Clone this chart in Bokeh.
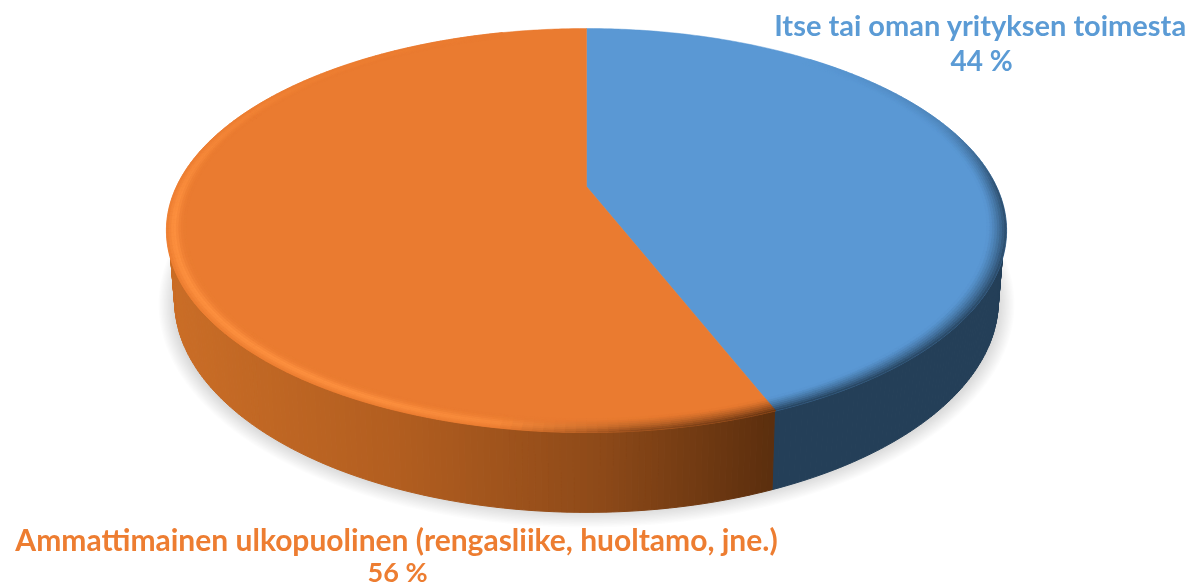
import numpy as np
from bokeh.plotting import figure
from bokeh.core.properties import value
from bokeh.embed import file_html
from bokeh.resources import INLINE

# ---- chart data ----
labels = ["Itse tai oman yrityksen toimesta",
          "Ammattimainen ulkopuolinen (rengasliike, huoltamo, jne.)"]
shares = [44, 56]
face_colors = ["#5a98d4", "#ea7b30"]
text_colors = ["#5b9bd5", "#ed7d31"]

W, H = 1199, 588
C = -0.2178          # perspective factor
CX = 586

def top(r, th):
    s, t = r * np.sin(th), -r * np.cos(th)
    d = 1 + C * t
    return CX + 410 * s / d, (186 + 151.9 * t) / d

def bottom(th):
    s, t = np.sin(th), -np.cos(th)
    d = 1 + C * t
    return CX + 402 * s / d, (253.8 + 146.6 * t) / d

def rgb(c):
    return np.array([int(c[i:i + 2], 16) for i in (1, 3, 5)], float)

def mix(a, b, f):
    v = rgb(a) * (1 - f) + rgb(b) * f
    return "#%02x%02x%02x" % tuple(int(round(x)) for x in v)

p = figure(width=W, height=H, x_range=(0, W), y_range=(H, 0),
           output_backend="svg", toolbar_location=None,
           min_border=0, outline_line_color=None, background_fill_color="white")
p.axis.visible = False
p.grid.visible = False
p.styles = {"position": "fixed", "left": "0px", "top": "0px"}

# soft ground shadow
phi = np.linspace(0, 2 * np.pi, 180)
for g in np.linspace(20, 0, 16):
    p.patch(CX + (408 + g) * np.sin(phi), 304 - (203 + g) * np.cos(phi),
            fill_color="#000000", fill_alpha=0.012, line_color=None)

# slice angle limits
frac = np.cumsum([0] + shares) / sum(shares) * 2 * np.pi
side_x = [165, 400, 600, 772]
side_r = [(0xcb, 0xb2, 0x8e, 0x5c), (0x6e, 0x5e, 0x4a, 0x2f), (0x27, 0x20, 0x19, 0x0e)]

# side wall, strip by strip (front half only)
xs, ys, cols = [], [], []
for i in range(2):
    n = int(shares[i] * 5)
    th = np.linspace(frac[i], frac[i + 1], n + 1)
    for a, b in zip(th[:-1], th[1:]):
        if -np.cos((a + b) / 2) < -0.15:
            continue
        x0, y0 = top(0.995, a); x1, y1 = top(0.995, b)
        x2, y2 = bottom(b); x3, y3 = bottom(a)
        xs.append([x0, x1, x2, x3]); ys.append([y0, y1, y2, y3])
        if i == 0:
            cols.append("#243f58")
        else:
            xm = (x0 + x1) / 2
            c = [np.interp(xm, side_x, ch) for ch in side_r]
            cols.append("#%02x%02x%02x" % tuple(int(v) for v in c))
p.patches(xs, ys, fill_color=cols, line_color=cols, line_width=1)

# top faces
for i in range(2):
    th = np.linspace(frac[i], frac[i + 1], int(shares[i] * 6))
    x, y = top(1, th)
    x = np.concatenate([[CX], x]); y = np.concatenate([[186], y])
    p.patch(x, y, fill_color=face_colors[i], line_color=face_colors[i], line_width=0.5)

# bevelled rim
def ramp(d, pts, vals):
    return float(np.interp(d, pts, vals))

RW = 0.045
us = np.linspace(0, 1, 9)
xs, ys, cols = [], [], []
for i in range(2):
    n = int(shares[i] * 3)
    th = np.linspace(frac[i], frac[i + 1], n + 1)
    for a, b in zip(th[:-1], th[1:]):
        deg = np.degrees((a + b) / 2)
        if i == 0 and deg < 40:
            continue
        if i == 1 and deg > 345:
            continue
        for u0, u1 in zip(us[:-1], us[1:]):
            um = (u0 + u1) / 2
            xa, ya = top(1 - RW * u0, a); xb, yb = top(1 - RW * u0, b)
            xc, yc = top(1 - RW * u1, b); xd, yd = top(1 - RW * u1, a)
            xs.append([xa, xb, xc, xd]); ys.append([ya, yb, yc, yd])
            if i == 0:
                d = ramp(deg, [40, 70, 90, 160], [0, 0.25, 0.85, 1])
                cols.append(mix(face_colors[0], "#243f58", d * (1 - um) ** 1.3))
            else:
                d = ramp(deg, [158, 175, 190], [1, 0.7, 0])
                l = ramp(deg, [165, 180, 205, 262, 285, 310, 345], [0, 0.5, 1, 1, 0.55, 0.2, 0])
                bump = np.exp(-((um - 0.4) / 0.28) ** 2)
                c = mix(face_colors[1], "#fc8f3e", l * bump)
                cols.append(mix(c, "#5f3010", d * (1 - um) ** 1.3))
p.patches(xs, ys, fill_color=cols, line_color=cols, line_width=0.6)

# labels
label_x = [980, 396]
label_y = [24, 538]
pct_y = [59, 571]
label_size = ["29px", "30px"]
pct_size = ["28px", "27px"]
for i in range(2):
    p.text([label_x[i]], [label_y[i]], text=[labels[i]],
           text_font=value("Lato"), text_font_style="bold", text_font_size=label_size[i],
           text_color=text_colors[i], text_align="center", text_baseline="middle")
    p.text([label_x[i] + 1], [pct_y[i]], text=[f"{shares[i]} %"],
           text_font=value("Lato"), text_font_style="bold", text_font_size=pct_size[i],
           text_color=text_colors[i], text_align="center", text_baseline="middle")

open("out.html", "w").write(file_html(p, INLINE))
